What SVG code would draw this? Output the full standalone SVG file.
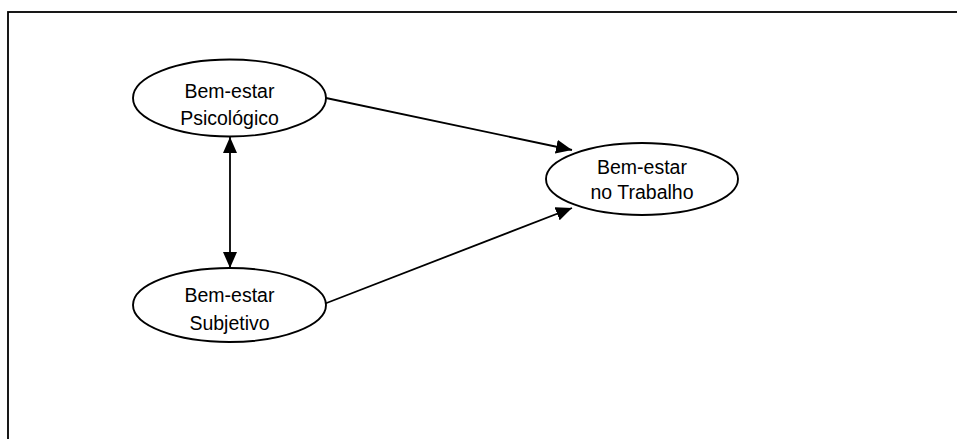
<svg xmlns="http://www.w3.org/2000/svg" width="957" height="439" viewBox="0 0 957 439">
  <style>
    .node ellipse { fill: #ffffff; stroke: #000000; stroke-width: 1.9; }
    .node text { font-family: "Liberation Sans", Arial, sans-serif; font-size: 19.5px; fill: #000000; text-anchor: middle; }
    .edge { stroke: #000000; stroke-width: 1.8; fill: none; }
  </style>
  <defs>
    <marker id="arrow" viewBox="0 0 16 14" refX="16" refY="7" markerWidth="16" markerHeight="14" markerUnits="userSpaceOnUse" orient="auto-start-reverse">
      <path d="M0,0 L16,7 L0,14 Z" fill="#000000"/>
    </marker>
  </defs>

  <!-- outer frame -->
  <rect x="8" y="12" width="960" height="440" fill="#ffffff" stroke="#000000" stroke-width="1.8"/>

  <!-- connectors -->
  <g id="connectors">
    <line class="edge" x1="326" y1="98" x2="572" y2="150" marker-end="url(#arrow)"/>
    <line class="edge" x1="324" y1="304" x2="572" y2="208" marker-end="url(#arrow)"/>
    <line class="edge" x1="230" y1="137" x2="230" y2="268" marker-start="url(#arrow)" marker-end="url(#arrow)"/>
  </g>

  <g id="node-psicologico" class="node">
    <ellipse cx="229.5" cy="98" rx="96.5" ry="38.5"/>
    <text x="229.5" y="98">Bem-estar</text>
    <text x="229.5" y="125">Psicológico</text>
  </g>

  <g id="node-subjetivo" class="node">
    <ellipse cx="229.5" cy="305" rx="96.5" ry="37"/>
    <text x="229.5" y="302">Bem-estar</text>
    <text x="229.5" y="330">Subjetivo</text>
  </g>

  <g id="node-trabalho" class="node">
    <ellipse cx="642" cy="179" rx="96" ry="36"/>
    <text x="642" y="174">Bem-estar</text>
    <text x="642" y="199">no Trabalho</text>
  </g>
</svg>
